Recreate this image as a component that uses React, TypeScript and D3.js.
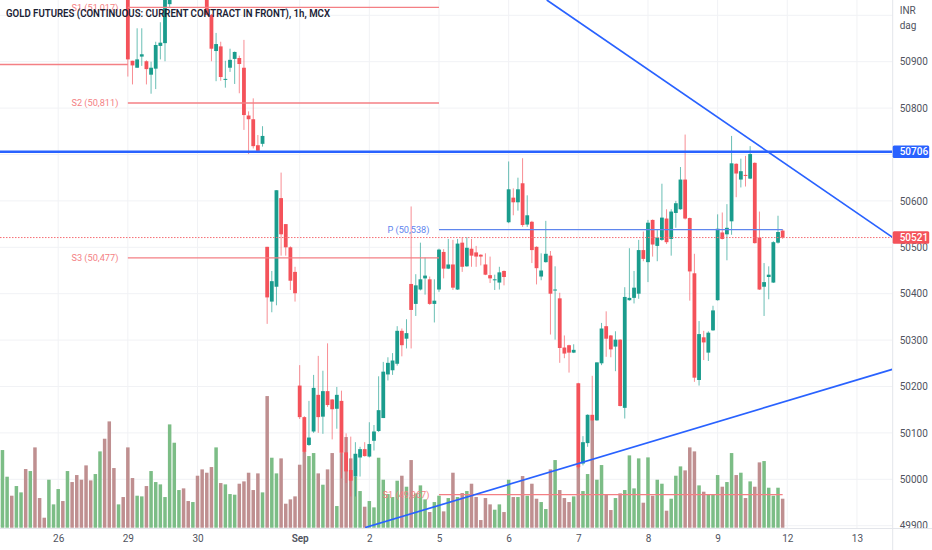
import React, { useEffect, useRef } from 'react';
import * as d3 from 'd3';

const WIDTH = 932;
const HEIGHT = 550;
const PANE_RIGHT = 892.7;
const PANE_BOTTOM = 528;

const title = 'GOLD FUTURES (CONTINUOUS: CURRENT CONTRACT IN FRONT), 1h, MCX';

const priceTicks = [49900, 50000, 50100, 50200, 50300, 50400, 50500, 50600, 50700, 50800, 50900, 51000];
const priceLabels = [49900, 50000, 50100, 50200, 50300, 50400, 50500, 50600, 50800, 50900];

const timeTickBars = [12, 27, 42, 64, 79, 94, 109, 124, 139, 154, 169, 184];
const timeTickLabels = ['26', '29', '30', 'Sep', '2', '5', '6', '7', '8', '9', '12', '13'];

const volumes = [
  233, 153, 96, 125, 106, 176, 170, 241, 89, 30,
  144, 70, 116, 80, 170, 137, 158, 144, 187, 142,
  161, 229, 267, 319, 179, 70, 92, 241, 149, 96,
  94, 125, 170, 137, 130, 92, 310, 255, 113, 118,
  80, 77, 156, 175, 165, 182, 241, 134, 130, 101,
  99, 132, 139, 165, 113, 163, 106, 395, 210, 163,
  208, 72, 85, 94, 189, 227, 215, 224, 163, 129,
  175, 224, 65, 224, 272, 208, 153, 110, 63, 80,
  61, 210, 144, 101, 92, 141, 156, 123, 203, 103,
  127, 85, 47, 77, 96, 49, 89, 165, 92, 104,
  110, 132, 92, 23, 89, 70, 54, 70, 47, 144,
  92, 92, 155, 96, 132, 87, 77, 56, 175, 203,
  113, 89, 77, 94, 183, 110, 161, 323, 144, 188,
  99, 53, 89, 103, 113, 217, 118, 208, 75, 211,
  96, 144, 132, 51, 87, 156, 184, 172, 241, 229,
  127, 108, 101, 101, 158, 123, 137, 224, 158, 165,
  89, 139, 123, 196, 200, 120, 96, 120, 87,
];
const volumeDirs = (
  'GGRGGRGRRR' + 'GGGRGRRRRR' + 'GGRRRGRRRG' + 'GRGGGGGGGR' + 'RGRRRRGRGG' + 'GRRRRRGRGG' +
  'RRRRRRGGRG' + 'RRGRRRGGRG' + 'GGGGGGRGRG' + 'GGRGGRGRGR' + 'GRRRRRGGRG' + 'RGRGRRGGRG' +
  'RRRGRGGRGG' + 'RRGRGGGGRG' + 'RGGRGGGRRR' + 'GRGGGRGGRG' + 'RGRRGGGGR'
).split('');

// candles start at bar 27, the ones before that sit above the visible range
const firstCandleBar = 27;
const opens = [
  51083, 50902, 50887, 50911, 50901, 50872, 50885, 50934, 50940, 51024,
  null, null, null, null, null, null, null,
  51063, 51001, 50923, 50933, 50862, 50887, 50906, 50908, 50887, 50784, 50776, 50720, 50723,
  50501, 50383, 50415, 50606, 50550, 50500, 50447,
  50202, 50134, 50074, 50103, 50182, 50135, 50190, 50172, 50152, 50169,
  50058, 50020, 50006, 50047, 50065, 50049, 50083, 50104, 50132, 50226,
  50235, 50249, 50320, 50303, 50421, 50378, 50409, 50433, 50431, 50378,
  50409, 50490, 50454, 50463, 50409, 50510, 50459, 50497, 50489, 50484,
  50463, 50440, 50430, 50424, 50449,
  50554, 50607, 50597, 50638, 50549, 50555, 50501, 50437, 50468, 50482,
  50407, 50390, 50284, 50289, 50273, 50207, 50034, 50078, 50139, 50127,
  50250, 50330, 50310, 50286, 50301, 50154, 50386, 50391, 50400, 50494,
  50468, 50559, 50503, 50516, 50562, 50518, 50574, 50582, 50646, 50563,
  50444, 50214, 50306, 50273, 50321, 50386, 50532, 50528, 50556, 50680,
  50646, 50656, 50648, 50682, 50521, 50415, 50436, 50424, 50510, 50536,
];
const highs = [
  51103, 50902, 50972, 50972, 50903, 50900, 50943, 50985, 51063, 51083,
  null, null, null, null, null, null, null,
  51083, 51003, 50962, 50943, 50902, 50928, 50922, 50913, 50947, 50793, 50821, 50742, 50761,
  50501, 50449, 50623, 50661, 50550, 50502, 50458,
  50246, 50136, 50169, 50225, 50266, 50234, 50293, 50173, 50199, 50191,
  50099, 50092, 50080, 50070, 50080, 50123, 50117, 50222, 50253, 50263,
  50272, 50330, 50325, 50345, 50588, 50442, 50510, 50478, 50437, 50431,
  50497, 50496, 50518, 50516, 50518, 50522, 50522, 50518, 50503, 50485,
  50487, 50480, 50441, 50458, 50450,
  50685, 50627, 50650, 50692, 50612, 50557, 50502, 50487, 50557, 50492,
  50459, 50402, 50310, 50290, 50291, 50208, 50093, 50140, 50223, 50252,
  50337, 50362, 50311, 50319, 50302, 50414, 50498, 50449, 50516, 50534,
  50559, 50560, 50539, 50637, 50582, 50582, 50600, 50673, 50743, 50564,
  50486, 50341, 50320, 50319, 50374, 50571, 50575, 50593, 50740, 50681,
  50691, 50697, 50718, 50683, 50577, 50466, 50459, 50513, 50568, 50539,
];
const lows = [
  50868, 50851, 50887, 50891, 50851, 50831, 50841, 50905, 50901, 51018,
  null, null, null, null, null, null, null,
  51001, 50901, 50858, 50859, 50844, 50878, 50852, 50832, 50753, 50701, 50713, 50705, 50717,
  50335, 50360, 50375, 50482, 50482, 50408, 50383,
  50130, 50056, 50072, 50100, 50100, 50098, 50156, 50086, 50109, 50002,
  49992, 49963, 49963, 50006, 50049, 50047, 50062, 50102, 50132, 50213,
  50225, 50245, 50265, 50282, 50282, 50352, 50407, 50398, 50376, 50338,
  50404, 50433, 50453, 50408, 50408, 50447, 50458, 50458, 50458, 50461,
  50440, 50423, 50408, 50409, 50418,
  50552, 50569, 50579, 50544, 50544, 50466, 50420, 50429, 50467, 50312,
  50301, 50251, 50261, 50230, 50272, 50022, 50030, 50070, 50126, 50126,
  50246, 50264, 50263, 50233, 50157, 50131, 50385, 50379, 50389, 50470,
  50425, 50480, 50470, 50514, 50507, 50482, 50542, 50581, 50560, 50385,
  50210, 50202, 50257, 50255, 50320, 50385, 50517, 50472, 50527, 50608,
  50629, 50631, 50647, 50508, 50408, 50352, 50388, 50423, 50508, 50518,
];
const closes = [
  50905, 50892, 50905, 50916, 50884, 50887, 50936, 50941, 51043, 51063,
  null, null, null, null, null, null, null,
  51001, 50928, 50938, 50867, 50863, 50904, 50921, 50895, 50785, 50776, 50718, 50708, 50740,
  50392, 50427, 50623, 50528, 50500, 50428, 50401,
  50134, 50059, 50090, 50197, 50134, 50190, 50160, 50151, 50182, 50057,
  50017, 49997, 50055, 50065, 50050, 50076, 50103, 50149, 50232, 50251,
  50256, 50320, 50289, 50315, 50365, 50418, 50431, 50439, 50378, 50385,
  50495, 50454, 50463, 50413, 50508, 50458, 50499, 50482, 50480, 50480,
  50441, 50433, 50431, 50446, 50436,
  50625, 50597, 50625, 50548, 50569, 50494, 50455, 50450, 50486, 50400,
  50409, 50283, 50271, 50273, 50279, 50026, 50080, 50139, 50127, 50252,
  50325, 50303, 50280, 50301, 50158, 50393, 50391, 50413, 50494, 50475,
  50553, 50506, 50521, 50564, 50511, 50577, 50595, 50646, 50562, 50448,
  50219, 50313, 50295, 50316, 50364, 50540, 50518, 50542, 50681, 50659,
  50664, 50654, 50701, 50509, 50409, 50425, 50441, 50511, 50533, 50521,
];

const pivotNames = ['', 'S1', 'S2', 'S3', 'P', 'S1'];
const pivotPrices = [50894, 51017, 50811, 50477, 50538, 49967];
const pivotFrom = [-1, 27, 27, 27, 94, 94];
const pivotTo = [27, 94, 94, 94, 168, 168];

const lastPrice = 50521;
const supportPrice = 50706;
const downTrendBars = [117.2, 191.6];
const downTrendPrices = [51033, 50522];
const upTrendBars = [78.1, 191.6];
const upTrendPrices = [49896, 50237];

const RED = '#f4525a';
const TEAL = '#1a9c8d';
const BLUE = '#2962ff';
const FONT = 'Roboto, "Open Sans", sans-serif';

const GoldChart: React.FC = () => {
  const svgRef = useRef<SVGSVGElement>(null);

  useEffect(() => {
    if (!svgRef.current) return;
    const svg = d3.select(svgRef.current);
    svg.selectAll('*').remove();

    const x = d3.scaleLinear().domain([0, 184]).range([2.46, 2.46 + 184 * 4.644]);
    const y = d3.scaleLinear().domain([49900, 50900]).range([525.7, 61.7]);
    const vol = d3.scaleLinear().domain([0, 400]).range([PANE_BOTTOM - 0.3, PANE_BOTTOM - 133.6]);

    svg.append('rect').attr('width', WIDTH).attr('height', HEIGHT).attr('fill', '#fff');

    svg.append('defs').append('clipPath').attr('id', 'pane')
      .append('rect').attr('width', PANE_RIGHT).attr('height', PANE_BOTTOM);

    const pane = svg.append('g').attr('clip-path', 'url(#pane)');

    // grid
    pane.append('g').selectAll('line').data(priceTicks).enter().append('line')
      .attr('x1', 0).attr('x2', PANE_RIGHT)
      .attr('y1', d => y(d)).attr('y2', d => y(d))
      .attr('stroke', '#f1f2f5');
    pane.append('g').selectAll('line').data(timeTickBars).enter().append('line')
      .attr('x1', d => x(d)).attr('x2', d => x(d))
      .attr('y1', 0).attr('y2', PANE_BOTTOM)
      .attr('stroke', '#f1f2f5');

    // volume
    pane.append('g').selectAll('rect').data(volumes).enter().append('rect')
      .attr('x', (_, i) => x(i) - 1.75)
      .attr('width', 3.5)
      .attr('y', d => vol(d))
      .attr('height', d => vol(0) - vol(d))
      .attr('fill', (_, i) => (volumeDirs[i] === 'G' ? '#7cbd86' : '#bf8f90'));

    // candles
    const bars = opens
      .map((o, i) => ({ bar: i + firstCandleBar, o, h: highs[i], l: lows[i], c: closes[i] }))
      .filter(d => d.o !== null) as { bar: number; o: number; h: number; l: number; c: number }[];
    const candleColor = (d: { o: number; c: number }) => (d.c < d.o ? RED : TEAL);

    const candles = pane.append('g').selectAll('g').data(bars).enter().append('g');
    candles.append('line')
      .attr('x1', d => x(d.bar)).attr('x2', d => x(d.bar))
      .attr('y1', d => y(d.h)).attr('y2', d => y(d.l))
      .attr('stroke', candleColor)
      .attr('stroke-opacity', 0.65);
    candles.append('rect')
      .attr('x', d => x(d.bar) - 1.9)
      .attr('width', 3.8)
      .attr('y', d => y(Math.max(d.o, d.c)))
      .attr('height', d => Math.max(y(Math.min(d.o, d.c)) - y(Math.max(d.o, d.c)), 1))
      .attr('fill', candleColor);

    // pivot levels
    pivotPrices.forEach((p, i) => {
      const color = pivotNames[i] === 'P' ? '#5f86ee' : '#f47f84';
      pane.append('line')
        .attr('x1', x(pivotFrom[i])).attr('x2', x(pivotTo[i]))
        .attr('y1', y(p)).attr('y2', y(p))
        .attr('stroke', color)
        .attr('stroke-width', 1.3);
      if (pivotNames[i]) {
        pane.append('text')
          .attr('x', x(pivotFrom[i]) - 9.5)
          .attr('y', y(p))
          .attr('dy', '0.35em')
          .attr('text-anchor', 'end')
          .attr('font-family', FONT)
          .attr('font-size', 9.2)
          .attr('fill', color)
          .text(`${pivotNames[i]} (${d3.format(',')(p)})`);
      }
    });

    // last price dotted line
    pane.append('line')
      .attr('x1', 0).attr('x2', PANE_RIGHT)
      .attr('y1', y(lastPrice)).attr('y2', y(lastPrice))
      .attr('stroke', '#f66f75')
      .attr('stroke-dasharray', '1.5 1.5');

    // drawn lines
    const line = d3.line<number>().x(d => x(d)).y((_, i, arr) => y(arr === downTrendBars ? downTrendPrices[i] : upTrendPrices[i]));
    [downTrendBars, upTrendBars].forEach(b => {
      pane.append('path')
        .attr('d', line(b))
        .attr('fill', 'none')
        .attr('stroke', BLUE)
        .attr('stroke-width', 1.7);
    });
    pane.append('line')
      .attr('x1', 0).attr('x2', PANE_RIGHT)
      .attr('y1', y(supportPrice)).attr('y2', y(supportPrice))
      .attr('stroke', BLUE)
      .attr('stroke-width', 2.4);

    // title, squeezed to the width it has in the original
    pane.append('text')
      .attr('x', 6).attr('y', 17)
      .attr('font-family', FONT)
      .attr('font-size', 10.4)
      .attr('font-weight', 600)
      .attr('fill', '#1b2234')
      .attr('textLength', 324)
      .attr('lengthAdjust', 'spacingAndGlyphs')
      .text(title);

    // price axis
    const yAxis = svg.append('g')
      .attr('transform', `translate(${PANE_RIGHT}, 0)`)
      .call(d3.axisRight(y).tickValues(priceLabels).tickSize(0).tickPadding(7).tickFormat(d3.format('d') as any));
    yAxis.select('.domain').remove();
    yAxis.selectAll('text').attr('font-family', FONT).attr('font-size', 10).attr('fill', '#50535e');

    const unit = svg.append('g').attr('font-family', FONT).attr('font-size', 10).attr('fill', '#50535e');
    unit.append('text').attr('x', PANE_RIGHT + 7).attr('y', 14).text('INR');
    unit.append('text').attr('x', PANE_RIGHT + 7).attr('y', 29).text('dag');

    // time axis strip sits over the clipped 49900 label
    svg.append('rect').attr('y', PANE_BOTTOM).attr('width', WIDTH).attr('height', HEIGHT - PANE_BOTTOM).attr('fill', '#fff');
    svg.append('line').attr('x1', 0).attr('x2', WIDTH).attr('y1', PANE_BOTTOM + 0.5).attr('y2', PANE_BOTTOM + 0.5).attr('stroke', '#e3e5ea');
    svg.append('line').attr('x1', PANE_RIGHT).attr('x2', PANE_RIGHT).attr('y1', 0).attr('y2', HEIGHT).attr('stroke', '#e3e5ea');

    const xAxis = svg.append('g')
      .attr('transform', `translate(0, ${PANE_BOTTOM})`)
      .call(d3.axisBottom(x).tickValues(timeTickBars).tickSize(0).tickPadding(7)
        .tickFormat((_, i) => timeTickLabels[i]));
    xAxis.select('.domain').remove();
    xAxis.selectAll('text')
      .attr('font-family', FONT)
      .attr('font-size', 10)
      .attr('fill', '#50535e')
      .attr('font-weight', (_, i) => (timeTickLabels[i] === 'Sep' ? 600 : 400));

    // price tags
    const tags = [
      { price: supportPrice, color: '#2962ff' },
      { price: lastPrice, color: '#f4525a' },
    ];
    tags.forEach(t => {
      svg.append('rect')
        .attr('x', PANE_RIGHT).attr('y', y(t.price) - 6.2)
        .attr('width', 36.5).attr('height', 12.4)
        .attr('rx', 1.5)
        .attr('fill', t.color);
      svg.append('text')
        .attr('x', PANE_RIGHT + 7).attr('y', y(t.price))
        .attr('dy', '0.35em')
        .attr('font-family', FONT)
        .attr('font-size', 10)
        .attr('font-weight', 500)
        .attr('fill', '#fff')
        .text(t.price);
    });
  }, []);

  return (
    <svg
      ref={svgRef}
      width={WIDTH}
      height={HEIGHT}
      style={{ position: 'absolute', left: 0, top: 0, display: 'block' }}
    />
  );
};

export default GoldChart;
